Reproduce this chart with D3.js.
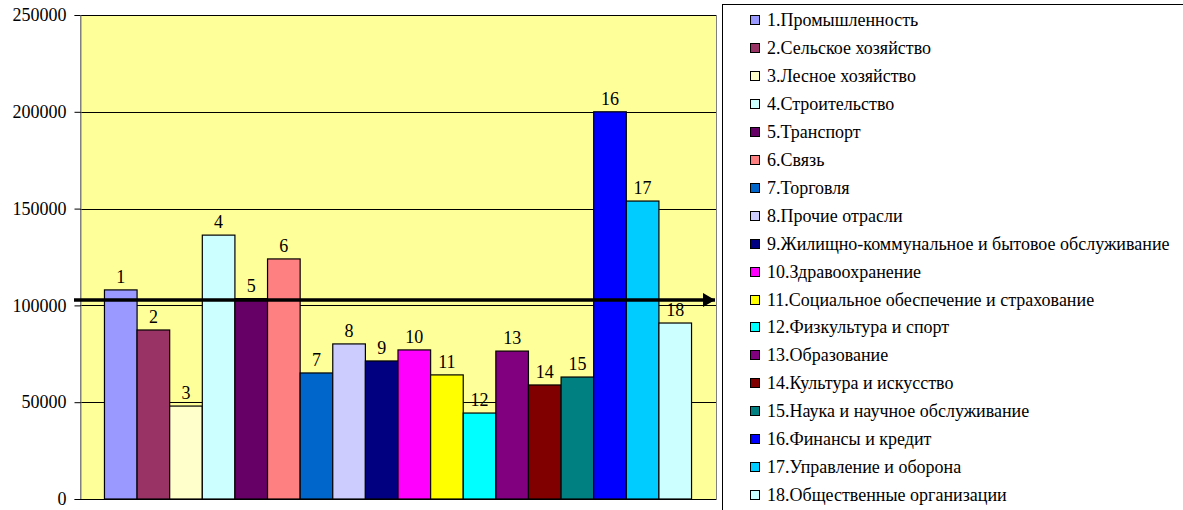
<!DOCTYPE html>
<html>
<head>
<meta charset="utf-8">
<script src="https://cdn.jsdelivr.net/npm/d3@7"></script>
</head>
<body style="margin:0">
<svg id="chart" width="1183" height="510" font-family="Liberation Serif" font-size="18"></svg>
<script>
// отрасли (номер столбца и название для легенды)
const categories = ["1","2","3","4","5","6","7","8","9","10","11","12","13","14","15","16","17","18"];
const names = ["Промышленность","Сельское хозяйство","Лесное хозяйство","Строительство","Транспорт","Связь","Торговля","Прочие отрасли","Жилищно-коммунальное и бытовое обслуживание","Здравоохранение","Социальное обеспечение и страхование","Физкультура и спорт","Образование","Культура и искусство","Наука и научное обслуживание","Финансы и кредит","Управление и оборона","Общественные организации"];
const values = [108000, 87300, 48000, 136300, 103500, 124000, 65100, 80100, 71300, 77000, 64100, 44400, 76400, 58900, 63000, 200000, 153900, 90900];
const colors = ["#9999FF","#993366","#FFFFCC","#CCFFFF","#660066","#FF8080","#0066CC","#CCCCFF","#000080","#FF00FF","#FFFF00","#00FFFF","#800080","#800000","#008080","#0000FF","#00CCFF","#CCFFFF"];
const yTicks = [0, 50000, 100000, 150000, 200000, 250000];
const average = 102800; // уровень стрелки

const svg = d3.select("#chart");
const plot = {left: 80, right: 716, top: 15, bottom: 499};

const x = d3.scaleBand().domain(categories).range([plot.left, plot.right]).paddingInner(0).paddingOuter(0.75);
const y = d3.scaleLinear().domain([0, 250000]).range([plot.bottom, plot.top]);

// область построения
svg.append("rect")
	.attr("x", plot.left + 0.5).attr("y", plot.top + 0.5)
	.attr("width", plot.right - plot.left).attr("height", plot.bottom - plot.top)
	.attr("fill", "#FFFF99").attr("stroke", "#808080").attr("stroke-width", 1);

// сетка
svg.append("g")
	.selectAll("line")
	.data(yTicks.slice(1))
	.enter().append("line")
	.attr("x1", plot.left).attr("x2", plot.right)
	.attr("y1", d => Math.round(y(d)) + 0.5).attr("y2", d => Math.round(y(d)) + 0.5)
	.attr("stroke", "#000").attr("stroke-width", 1);

// ось Y
const yAxis = svg.append("g")
	.attr("transform", `translate(${plot.left + 0.5},0)`)
	.call(d3.axisLeft(y).tickValues(yTicks).tickSize(6).tickPadding(8).tickFormat(d3.format("d")))
	.attr("font-family", "Liberation Serif").attr("font-size", 18);
yAxis.select(".domain").attr("stroke", "#808080");
yAxis.selectAll(".tick line").attr("stroke", "#000");
yAxis.selectAll("text").attr("fill", "#000");

// столбцы
svg.append("g")
	.selectAll("rect")
	.data(values)
	.enter().append("rect")
	.attr("x", (d, i) => x(categories[i]))
	.attr("y", d => y(d))
	.attr("width", x.bandwidth())
	.attr("height", d => y(0) - y(d))
	.attr("fill", (d, i) => colors[i])
	.attr("stroke", "#000").attr("stroke-width", 1.2);

// ось X
svg.append("line")
	.attr("x1", plot.left).attr("x2", plot.right)
	.attr("y1", plot.bottom + 0.5).attr("y2", plot.bottom + 0.5)
	.attr("stroke", "#000");

// подписи столбцов
svg.append("g")
	.selectAll("text")
	.data(values)
	.enter().append("text")
	.attr("x", (d, i) => x(categories[i]) + x.bandwidth() / 2)
	.attr("y", d => y(d) - 7)
	.attr("text-anchor", "middle")
	.text((d, i) => categories[i]);

// стрелка среднего уровня
svg.append("defs").append("marker")
	.attr("id", "arrow")
	.attr("viewBox", "0 0 12 14")
	.attr("refX", 12).attr("refY", 7)
	.attr("markerWidth", 12).attr("markerHeight", 14)
	.attr("markerUnits", "userSpaceOnUse")
	.attr("orient", "auto")
	.append("path").attr("d", "M0,0 L12,7 L0,14 Z").attr("fill", "#000");
svg.append("line")
	.attr("x1", plot.left - 6).attr("x2", plot.right - 1)
	.attr("y1", y(average)).attr("y2", y(average))
	.attr("stroke", "#000").attr("stroke-width", 3.5)
	.attr("marker-end", "url(#arrow)");

// легенда
const legend = svg.append("g");
legend.append("rect")
	.attr("x", 722.5).attr("y", 4.5).attr("width", 600).attr("height", 600)
	.attr("fill", "#fff").attr("stroke", "#000");
const rowH = 27.95;
const items = legend.selectAll("g.item")
	.data(names)
	.enter().append("g").attr("class", "item")
	.attr("transform", (d, i) => `translate(750,${Math.round(20 + i * rowH)})`);
items.append("rect")
	.attr("x", 0.5).attr("y", -4.5).attr("width", 9).attr("height", 9)
	.attr("fill", (d, i) => colors[i]).attr("stroke", "#000");
items.append("text")
	.attr("x", 17).attr("y", 6)
	.text((d, i) => categories[i] + "." + d);
</script>
</body>
</html>
